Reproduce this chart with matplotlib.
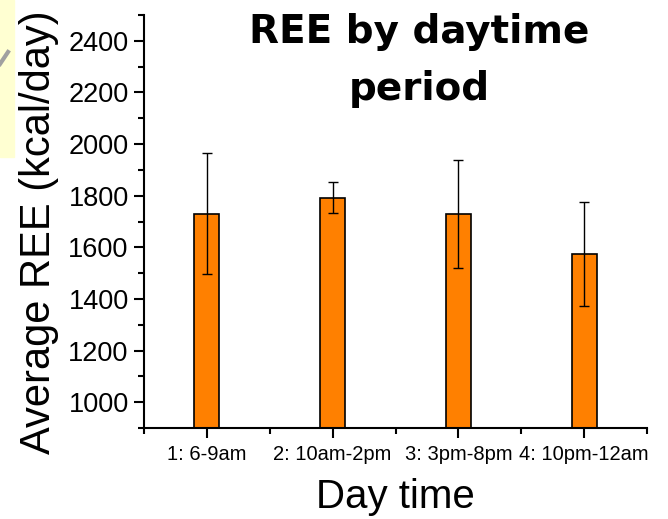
import matplotlib
matplotlib.use("Agg")
import matplotlib.pyplot as plt
from matplotlib.patches import Rectangle
from matplotlib.lines import Line2D
from matplotlib.ticker import MultipleLocator

periods = ["1: 6-9am", "2: 10am-2pm", "3: 3pm-8pm", "4: 10pm-12am"]
positions = [1, 2, 3, 4]
ree_mean = [1730, 1793, 1730, 1574]
ree_err = [235, 61, 209, 203]

plt.rcParams['font.family'] = ['Liberation Sans', 'DejaVu Sans']

fig = plt.figure(figsize=(6.68, 5.19), dpi=100)
ax = fig.add_axes([0.2156, 0.1753, 0.753, 0.7958])

# cropped yellow note at top-left corner of the slide
fig.patches.append(Rectangle((0, 1 - 157 / 519), 14 / 668, 157 / 519,
                             transform=fig.transFigure, color="#FFFFD2", zorder=0))
fig.lines.append(Line2D([0 / 668, 8 / 668], [1 - 64 / 519, 1 - 52 / 519],
                        transform=fig.transFigure, color="#A0A0A0", lw=3))

ax.bar(positions, ree_mean, width=0.2, bottom=0, color="#FF8000",
       edgecolor="black", linewidth=1.2, zorder=2)
ax.errorbar(positions, ree_mean, yerr=ree_err, fmt="none", ecolor="black",
            elinewidth=1.0, capsize=3.5, capthick=1.0, zorder=3)

ax.set_xlim(0.5, 4.5)
ax.set_ylim(900, 2500)
ax.set_xticks(positions)
ax.set_xticklabels(periods, fontsize=14.5)
ax.xaxis.set_minor_locator(MultipleLocator(1, offset=0.5))
ax.set_yticks([1000, 1200, 1400, 1600, 1800, 2000, 2200, 2400])
ax.yaxis.set_minor_locator(MultipleLocator(100))
ax.tick_params(axis="y", labelsize=19.5, direction="out", length=7, width=1.5, pad=4)
ax.tick_params(axis="x", direction="out", length=7, width=1.5, pad=5)
ax.tick_params(which="minor", direction="out", length=4, width=1.5)

for side in ["top", "right"]:
    ax.spines[side].set_visible(False)
for side in ["left", "bottom"]:
    ax.spines[side].set_linewidth(1.5)

ax.set_ylabel("Average REE (kcal/day)", fontsize=30)
ax.yaxis.set_label_coords(-0.17, 0.475)
ax.set_xlabel("Day time", fontsize=29)
ax.xaxis.set_label_coords(0.5, -0.122)

fig.text(0.627, 0.883, "REE by daytime\nperiod", ha="center", va="center",
         fontsize=28, fontweight="bold", family=["DejaVu Sans"],
         linespacing=1.65)

fig.savefig("out.png", dpi=100)
